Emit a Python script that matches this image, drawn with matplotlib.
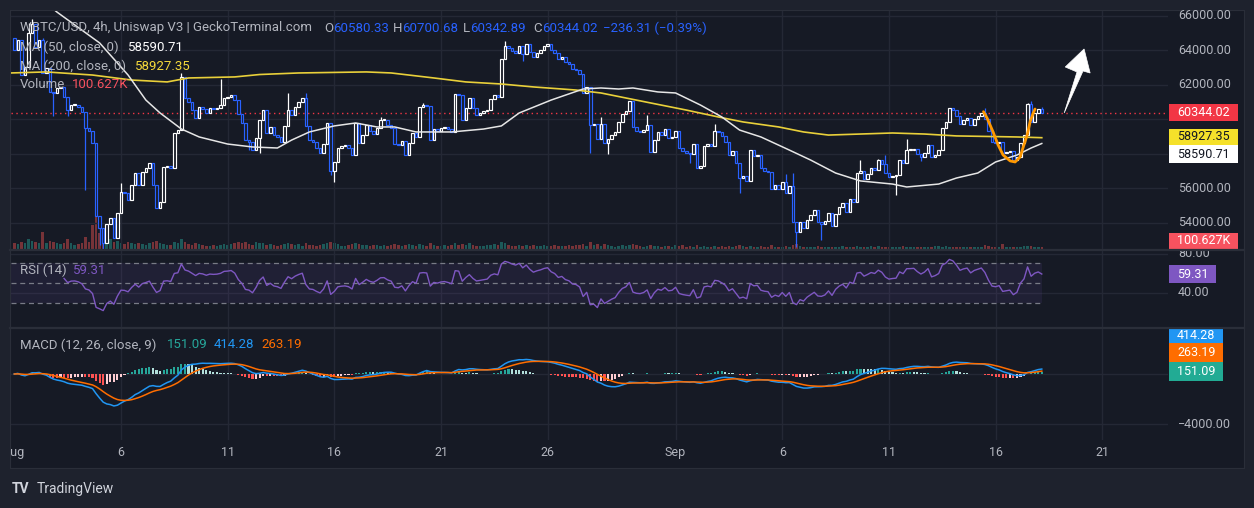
import numpy as np
import pandas as pd
import matplotlib
matplotlib.use("Agg")
import matplotlib.pyplot as plt
from matplotlib.patches import Rectangle, Polygon
from matplotlib.lines import Line2D
from matplotlib.transforms import blended_transform_factory

W, H = 1254, 508
BG = "#161a25"
FRAME = "#1e222d"
GRID = "#242835"
SEP = "#2a2e39"
TXT = "#b2b5be"
UP = "#ffffff"
DOWN = "#2962ff"

plt.rcParams['font.family'] = ['Roboto', 'DejaVu Sans']

# ---- data: WBTC/USD 4h candles, Aug 1 00:00 -> Sep 18 04:00 (one row per day) ----
first_open = 64700
close = [
    64000, 64600, 62550, 63000, 65000, 65500,
    64200, 64600, 62700, 62950, 61600, 61500,
    61800, 61850, 61290, 60530, 60820, 60850,
    60700, 60400, 59500, 59310, 58620, 54400,
    53700, 52800, 53900, 54300, 53100, 54550,
    55770, 55700, 55310, 56180, 56880, 56180,
    56930, 57160, 57450, 56180, 54840, 55190,
    57220, 57300, 57150, 59190, 59370, 62450,
    61230, 61000, 60530, 60070, 60700, 60600,
    60350, 60650, 60600, 60650, 60820, 61230,
    61290, 61400, 61100, 60300, 59780, 58790,
    58680, 58210, 58900, 59950, 60530, 59190,
    59540, 59080, 58950, 58670, 59600, 60530,
    60240, 60700, 61000, 61230, 59600, 58790,
    58700, 58330, 58040, 58560, 59780, 57000,
    57500, 58330, 58450, 58500, 58350, 57930,
    59780, 58620, 59080, 59650, 59300, 59130,
    59480, 59950, 59980, 59660, 59480, 58560,
    58480, 58730, 57930, 58620, 59190, 58970,
    60700, 60800, 60750, 58790, 59420, 59300,
    59480, 59550, 59420, 59250, 61460, 61400,
    59950, 60650, 61230, 60650, 60240, 60350,
    60450, 60550, 61170, 61400, 61290, 63480,
    64240, 64130, 63950, 63840, 64240, 63780,
    64360, 63920, 63600, 63840, 64000, 64240,
    64360, 64000, 63840, 63480, 63600, 63310,
    63200, 62900, 62850, 62620, 61520, 61870,
    59660, 59720, 58850, 59720, 58620, 58850,
    59080, 59250, 59830, 60300, 60500, 61060,
    59540, 59310, 59250, 59370, 59660, 58100,
    58790, 59250, 59080, 59420, 58900, 58960,
    59310, 58330, 58150, 58040, 57960, 58560,
    57160, 57280, 58450, 58560, 58450, 59310,
    59250, 59000, 58700, 57930, 58150, 57450,
    56600, 56700, 56410, 58210, 57870, 57930,
    57160, 57000, 56930, 55950, 56180, 55950,
    56350, 55720, 56120, 54030, 53450, 54030,
    53680, 54140, 54430, 54720, 54030, 53950,
    54100, 54540, 53790, 54490, 54900, 55140,
    54610, 55370, 55200, 56880, 57000, 56530,
    56820, 57160, 57050, 57620, 57400, 56880,
    56640, 56720, 56760, 57620, 57450, 58210,
    58230, 58270, 58000, 57800, 58040, 58500,
    57800, 57950, 58200, 59480, 59830, 60650,
    60530, 60180, 59720, 59950, 60070, 59660,
    60000, 60180, 60350, 60000, 59310, 58670,
    58600, 58700, 58040, 58100, 58150, 57620,
    57800, 58620, 59080, 60880, 59830, 60350,
    60580, 60344.02,
]
wick_high = {4: 65600, 5: 65800, 8: 64700, 30: 56300, 47: 62700, 58: 62330,
             77: 61500, 82: 61520, 103: 60130, 115: 60950, 138: 64530,
             165: 60130, 178: 60240, 197: 59720, 217: 56820, 219: 56880,
             238: 57620, 243: 57700, 245: 57900, 251: 58850, 273: 60650,
             285: 60950, 286: 61070, 289: 60700.68}
wick_low = {11: 60200, 15: 60190, 20: 55900, 24: 52700, 25: 52400, 66: 58200,
            69: 58040, 89: 56760, 90: 56350, 143: 63370, 162: 58040,
            167: 57970, 190: 57460, 204: 55720, 220: 52590, 227: 53000,
            248: 55600, 255: 57550, 289: 60342.89}
volume_k = [
    300, 250, 350, 300, 500, 400,
    350, 300, 850, 300, 400, 350,
    300, 250, 300, 500, 300, 200,
    250, 300, 600, 350, 1200, 1650,
    800, 700, 500, 500, 350, 400,
    300, 250, 350, 300, 250, 300,
    250, 200, 300, 350, 400, 300,
    250, 200, 200, 350, 300, 500,
    350, 250, 200, 300, 250, 200,
    150, 150, 200, 150, 200, 250,
    200, 250, 300, 350, 300, 350,
    250, 200, 350, 300, 300, 200,
    250, 200, 150, 200, 250, 300,
    250, 200, 250, 150, 300, 200,
    200, 150, 200, 250, 300, 350,
    300, 250, 150, 150, 200, 250,
    300, 250, 200, 200, 150, 200,
    200, 150, 200, 150, 200, 250,
    200, 150, 200, 250, 200, 150,
    250, 200, 150, 300, 200, 150,
    150, 200, 150, 200, 300, 200,
    250, 200, 300, 200, 150, 150,
    150, 200, 200, 250, 200, 350,
    300, 200, 150, 150, 200, 150,
    200, 150, 200, 150, 150, 200,
    150, 150, 200, 150, 150, 150,
    200, 150, 200, 200, 250, 150,
    350, 200, 250, 150, 250, 200,
    150, 100, 150, 200, 150, 200,
    250, 200, 150, 100, 150, 200,
    150, 150, 100, 150, 150, 100,
    200, 150, 200, 100, 150, 100,
    200, 100, 150, 100, 100, 150,
    100, 150, 100, 150, 100, 150,
    200, 150, 100, 150, 100, 100,
    150, 100, 100, 200, 100, 100,
    100, 150, 100, 200, 250, 150,
    100, 100, 100, 100, 150, 100,
    100, 100, 100, 100, 100, 150,
    100, 100, 100, 150, 100, 100,
    100, 150, 100, 150, 100, 100,
    100, 100, 100, 100, 150, 100,
    100, 100, 100, 100, 100, 100,
    100, 150, 150, 100, 150, 100,
    100, 100, 100, 100, 100, 100,
    100, 100, 100, 200, 150, 100,
    100, 100, 250, 100, 100, 100,
    100, 100, 150, 150, 150, 100,
    100, 100.627,
]
# moving averages (candle index, price)
ma50_i = [8.6, 12, 24, 32, 37, 41, 47, 52, 60, 67, 74, 78, 83, 90, 96, 102, 107,
          113, 123, 132, 137, 142, 151, 160, 165, 170, 174, 181, 186, 193, 199,
          204, 210, 218, 224, 231, 238, 247, 251, 260, 265, 271, 276, 282, 286, 289]
ma50_v = [66800, 66210, 64420, 62560, 61110, 60360, 59430, 58970, 58560, 58390,
          58330, 58790, 59260, 59610, 59780, 59550, 59550, 59260, 59260, 59430,
          59610, 60360, 61110, 61750, 61810, 61750, 61810, 61580, 61520, 60820,
          60130, 59370, 58970, 58210, 57630, 56880, 56420, 56240, 56070, 56240,
          56590, 56880, 57520, 57920, 58330, 58590.71]
ma200_i = [-1, 9, 22, 33, 43, 49, 62, 69, 80, 99, 106, 118, 127, 137, 146, 158,
           165, 172, 179, 189, 198, 205, 215, 222, 229, 238, 247, 256, 265, 282, 289]
ma200_v = [62680, 62740, 62560, 62270, 62160, 62390, 62450, 62590, 62680, 62740,
           62680, 62390, 62160, 62040, 61870, 61690, 61520, 61230, 60940, 60530,
           60130, 59840, 59550, 59260, 59080, 59140, 59200, 59140, 59030, 58970,
           58927.35]
# hand drawn annotations
cup_i = [272.6, 273.6, 275.3, 276.7, 278.1, 280.1, 281.5, 282.9, 283.7, 284.9, 285.7, 286.6, 287.1]
cup_v = [60435, 60070, 59260, 58510, 57930, 57580, 57520, 57810, 58330, 59090, 59840, 60360, 60590]
arrow_i = [295.3, 298.9, 295.6, 300.9, 302.6, 300.6]
arrow_v = [60360, 62736, 63026, 64070, 62678, 62794]

day_ticks = [0, 5, 10, 15, 20, 25, 31, 36, 41, 46, 51]
day_labels = ["Aug", "6", "11", "16", "21", "26", "Sep", "6", "11", "16", "21"]
price_ticks = [66000, 64000, 62000, 56000, 54000]
last_price = 60344.02

XLIM = (-0.93, 324.5)


def rect(x0, y0, x1, y1):
    return [x0 / W, 1 - y1 / H, (x1 - x0) / W, (y1 - y0) / H]


def fy(y):
    return 1 - y / H


fig = plt.figure(figsize=(W / 100, H / 100), dpi=100, facecolor=FRAME)

frame = fig.add_axes(rect(10, 10, 1244, 468))
frame.set_zorder(-5)
frame.set_facecolor(BG)
frame.set_xticks([])
frame.set_yticks([])
for s in frame.spines.values():
    s.set_color(SEP)

ax_vol = fig.add_axes(rect(11, 11, 1168, 249))
ax = fig.add_axes(rect(11, 11, 1168, 249))
ax_rsi = fig.add_axes(rect(11, 251, 1168, 327))
ax_macd = fig.add_axes(rect(11, 328, 1168, 440))
ax_time = fig.add_axes(rect(11, 440, 1168, 468))
for a in (ax_vol, ax, ax_rsi, ax_macd, ax_time):
    a.axis('off')
    a.set_xlim(*XLIM)

ax.set_ylim(52475, 66272)
ax_vol.set_ylim(0, 11900)
ax_rsi.set_ylim(4.9, 82.8)
ax_macd.set_ylim(-5280, 3680)
ax_time.set_ylim(0, 1)

# grid
for d in day_ticks[1:]:
    for a in (ax, ax_rsi, ax_macd):
        a.axvline(6 * d, color=GRID, lw=1, zorder=0)
for p in range(54000, 66001, 2000):
    ax.axhline(p, color=GRID, lw=1, zorder=0)
for r in (40, 80):
    ax_rsi.axhline(r, color=GRID, lw=1, zorder=0)
for m in (0, -4000):
    ax_macd.axhline(m, color=GRID, lw=1, zorder=0)

# candles
n = len(close)
idx = np.arange(n)
c = np.array(close, dtype=float)
o = np.concatenate([[first_open], c[:-1]])
col = np.where(c >= o, UP, DOWN)
hi = np.maximum(o, c)
lo = np.minimum(o, c)
for k, v in wick_high.items():
    hi[k] = max(hi[k], v)
for k, v in wick_low.items():
    lo[k] = min(lo[k], v)
ax.vlines(idx, lo, hi, colors=col, lw=0.9, zorder=2)
ax.bar(idx, np.maximum(np.abs(c - o), 40), bottom=np.minimum(o, c), width=0.72,
       color=BG, edgecolor=col, linewidth=0.85, zorder=3)

# volume
vcol = np.where(c >= o, "#26a69a", "#ef5350")
ax_vol.bar(idx, volume_k, width=0.72, color=vcol, alpha=0.45, linewidth=0)

# moving averages + last price line
ax.plot(ma200_i, ma200_v, color="#e9d03a", lw=1.2, zorder=4)
ax.plot(ma50_i, ma50_v, color="#e6e6e6", lw=1.1, zorder=4)
ax.axhline(last_price, color="#f23645", lw=1, ls=(0, (1, 2.5)), zorder=1)

# annotations
ax.plot(cup_i, cup_v, color="#ff9800", lw=2.0, zorder=5, solid_capstyle='round')
ax.add_patch(Polygon(list(zip(arrow_i, arrow_v)), closed=True, facecolor="white",
                     edgecolor="white", lw=0.5, zorder=5))

# RSI
s = pd.Series(c)
d = s.diff()
gain = d.clip(lower=0)
loss = (-d).clip(lower=0)
ag = gain.ewm(alpha=1 / 14, adjust=False, min_periods=14).mean()
al = loss.ewm(alpha=1 / 14, adjust=False, min_periods=14).mean()
rsi = 100 - 100 / (1 + ag / al)
ax_rsi.axhspan(30, 70, xmax=(1042 - 11) / (1168 - 11), color="#7e57c2", alpha=0.1, lw=0)
for r in (70, 50, 30):
    ax_rsi.axhline(r, xmax=(1042 - 11) / (1168 - 11), color="#787b86", lw=0.9,
                   ls=(0, (4, 3)), zorder=1)
ax_rsi.plot(idx, rsi, color="#7e57c2", lw=1.0, zorder=3)

# MACD
ema12 = s.ewm(span=12, adjust=False).mean()
ema26 = s.ewm(span=26, adjust=False).mean()
macd = ema12 - ema26
signal = macd.ewm(span=9, adjust=False).mean()
hist = (macd - signal).values
hcol = []
for k in range(n):
    prev = hist[k - 1] if k > 0 else 0
    if hist[k] >= 0:
        hcol.append("#26a69a" if hist[k] > prev else "#b2dfdb")
    else:
        hcol.append("#ff5252" if hist[k] < prev else "#ffcdd2")
ax_macd.bar(idx, hist, width=0.6, color=hcol, linewidth=0, zorder=2)
ax_macd.plot(idx, macd, color="#2196f3", lw=1.1, zorder=3)
ax_macd.plot(idx, signal, color="#ff6d00", lw=1.1, zorder=3)

# pane separators
for y in (250, 327.5):
    fig.add_artist(Line2D([10 / W, 1244 / W], [fy(y), fy(y)], color=SEP, lw=1.6))

# right scale labels
tr = blended_transform_factory(fig.transFigure, ax.transData)
for p in price_ticks:
    ax.text(1178 / W, p, f"{p:.2f}", transform=tr, color=TXT, fontsize=9, va='center')
tr_r = blended_transform_factory(fig.transFigure, ax_rsi.transData)
ax_rsi.text(1178 / W, 80, "80.00", transform=tr_r, color=TXT, fontsize=9, va='center')
ax_rsi.text(1178 / W, 40, "40.00", transform=tr_r, color=TXT, fontsize=9, va='center')
tr_m = blended_transform_factory(fig.transFigure, ax_macd.transData)
ax_macd.text(1178 / W, -4000, "\u22124000.00", transform=tr_m, color=TXT, fontsize=9, va='center')


def tag(y, text, bg, fg, x1=1238, h=17):
    fig.add_artist(Rectangle((1169 / W, fy(y + h / 2)), (x1 - 1169) / W, h / H,
                             transform=fig.transFigure, facecolor=bg, edgecolor='none'))
    fig.text(1177 / W, fy(y), text, color=fg, fontsize=9, va='center', ha='left')


tag(112.5, "60344.02", "#f23645", "white")
tag(137, "58927.35", "#f5e12a", "#131722", h=16)
tag(154, "58590.71", "#ffffff", "#131722", h=18)
tag(241, "100.627K", "#f7525f", "white", h=16)
tag(274, "59.31", "#7e57c2", "white", x1=1216, h=18)
tag(335.5, "414.28", "#2196f3", "white", x1=1223, h=15)
tag(352.5, "263.19", "#ff6d00", "white", x1=1223, h=19)
tag(371.5, "151.09", "#22ab94", "white", x1=1223, h=19)

# time scale
for dd, lab in zip(day_ticks, day_labels):
    ax_time.text(6 * dd, 0.54, lab, color=TXT, fontsize=9, ha='center', va='center',
                 clip_on=True)

# legends
hdr = [(20, "WBTC/USD, 4h, Uniswap V3 | GeckoTerminal.com", TXT),
       (324, "O", TXT), (333, "60580.33", DOWN),
       (393, "H", TXT), (402, "60700.68", DOWN),
       (463, "L", TXT), (470, "60342.89", DOWN),
       (533, "C", TXT), (542, "60344.02", DOWN),
       (603, "\u2212236.31 (\u22120.39%)", DOWN)]
for x, t, cl in hdr:
    fig.text(x / W, fy(28), t, color=cl, fontsize=9.5, va='center')
fig.text(20 / W, fy(47), "MA (50, close, 0)", color=TXT, fontsize=9.5, va='center')
fig.text(128 / W, fy(47), "58590.71", color="#ffffff", fontsize=9.5, va='center')
fig.text(20 / W, fy(66), "MA (200, close, 0)", color=TXT, fontsize=9.5, va='center')
fig.text(135 / W, fy(66), "58927.35", color="#f5d93b", fontsize=9.5, va='center')
fig.text(20 / W, fy(84), "Volume", color=TXT, fontsize=9.5, va='center')
fig.text(72 / W, fy(84), "100.627K", color="#f7525f", fontsize=9.5, va='center')
fig.text(20 / W, fy(270), "RSI (14)", color=TXT, fontsize=9.5, va='center')
fig.text(73 / W, fy(270), "59.31", color="#7e57c2", fontsize=9.5, va='center')
fig.text(20 / W, fy(345), "MACD (12, 26, close, 9)", color=TXT, fontsize=9.5, va='center')
fig.text(167 / W, fy(345), "151.09", color="#26a69a", fontsize=9.5, va='center')
fig.text(214 / W, fy(345), "414.28", color="#2196f3", fontsize=9.5, va='center')
fig.text(261 / W, fy(345), "263.19", color="#ff6d00", fontsize=9.5, va='center')

# watermark
fig.text(12 / W, fy(489), "TV", color="#d1d4dc", fontsize=10, fontweight='bold', va='center')
fig.text(37 / W, fy(489), "TradingView", color="#d1d4dc", fontsize=10, va='center')

fig.savefig("out.png", dpi=100, facecolor=FRAME)
